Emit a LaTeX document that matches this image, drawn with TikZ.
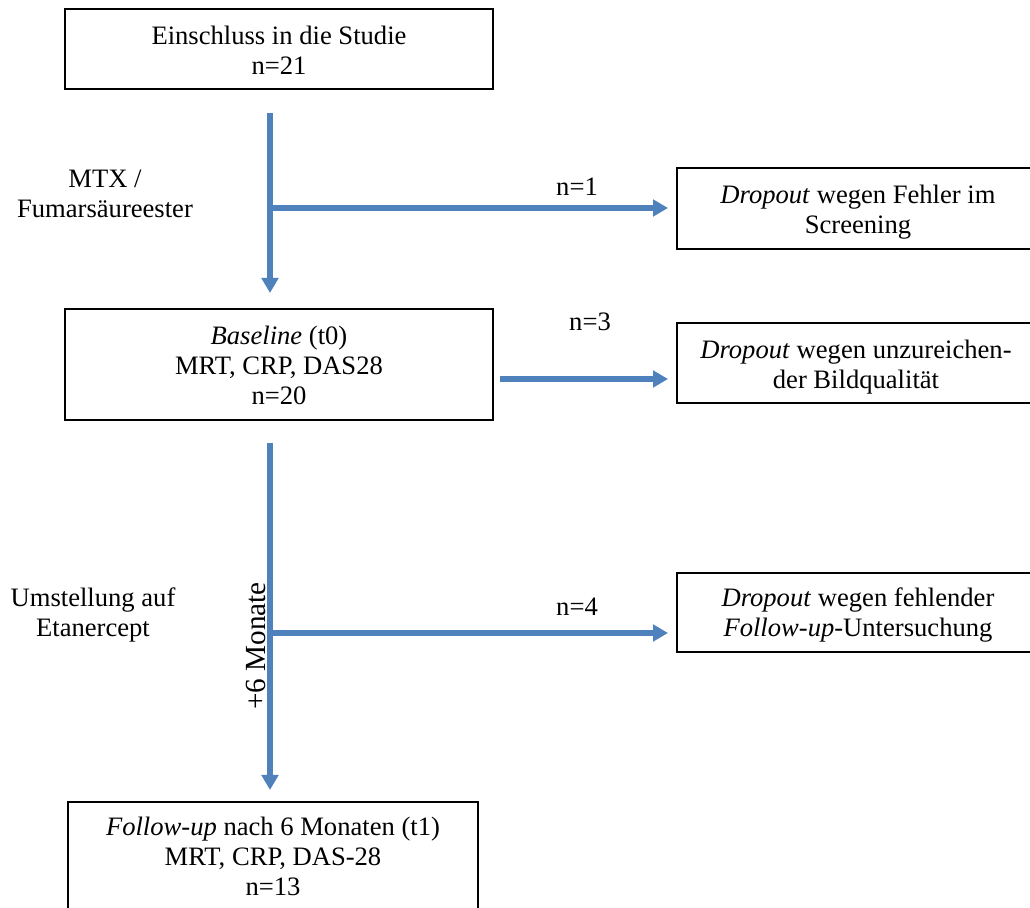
\documentclass[tikz,border=0pt]{standalone}
\usepackage{fontspec}
\setmainfont{Liberation Serif}
\usetikzlibrary{arrows.meta}
\definecolor{flowblue}{RGB}{79,129,189}
\begin{document}
\begin{tikzpicture}[x=0.5pt,y=-0.5pt,
  box/.style={draw=black,line width=1pt,inner sep=0pt,fill=none},
  txt/.style={align=center,inner sep=0pt,font=\fontsize{13.3}{15}\selectfont},
  flow/.style={draw=flowblue,line width=2.7pt,-{Triangle[length=7.5pt,width=8.2pt]}}]
\useasboundingbox (0,0) rectangle (1030,908);
% boxes
\node[box,minimum width=214pt,minimum height=40pt] (b1) at (279,49) {};
\node[box,minimum width=214pt,minimum height=55.5pt] (b2) at (279,364.5) {};
\node[box,minimum width=205pt,minimum height=79pt] (b3) at (273,881) {};
\node[box,minimum width=184pt,minimum height=40.5pt] (d1) at (861,208.5) {};
\node[box,minimum width=184pt,minimum height=40pt] (d2) at (861,363) {};
\node[box,minimum width=184pt,minimum height=39.5pt] (d3) at (861,612.5) {};
% texts
\node[txt] (t1) at (279,50) {Einschluss in die Studie\\n=21};
\node[txt] (t2) at (279,365) {\textit{Baseline} (t0)\\MRT, CRP, DAS28\\n=20};
\node[txt] (t3) at (273,856) {\textit{Follow-up} nach 6 Monaten (t1)\\MRT, CRP, DAS-28\\n=13};
\node[txt] (td1) at (858,212) {\textit{Dropout} wegen Fehler im\\Screening};
\node[txt] (td2) at (856,367) {\textit{Dropout} wegen unzureichen-\\der Bildqualität};
\node[txt] (td3) at (858,615) {\textit{Dropout} wegen fehlender\\\textit{Follow-up}-Untersuchung};
\node[txt] (l1) at (105,194) {MTX /\\Fumarsäureester};
\node[txt] (l2) at (93,615) {Umstellung auf\\Etanercept};
\node[txt,rotate=90,font=\fontsize{14.6}{16}\selectfont] (l3) at (256,646) {+6 Monate};
\node[txt] (n1) at (577,187) {n=1};
\node[txt] (n3) at (590,322) {n=3};
\node[txt] (n4) at (577,607) {n=4};
% coordinates
\coordinate (v1s) at (270,113);
\coordinate (v1e) at (270,293);
\coordinate (h1s) at (268,208);
\coordinate (h1e) at (668,208);
\coordinate (h2s) at (500,379);
\coordinate (h2e) at (668,379);
\coordinate (v2s) at (270,443);
\coordinate (v2e) at (270,790);
\coordinate (h3s) at (268,633);
\coordinate (h3e) at (668,633);
% connectors
\draw[flow] (v1s) -- (v1e);
\draw[flow] (h1s) -- (h1e);
\draw[flow] (h2s) -- (h2e);
\draw[flow] (v2s) -- (v2e);
\draw[flow] (h3s) -- (h3e);
\end{tikzpicture}
\end{document}
